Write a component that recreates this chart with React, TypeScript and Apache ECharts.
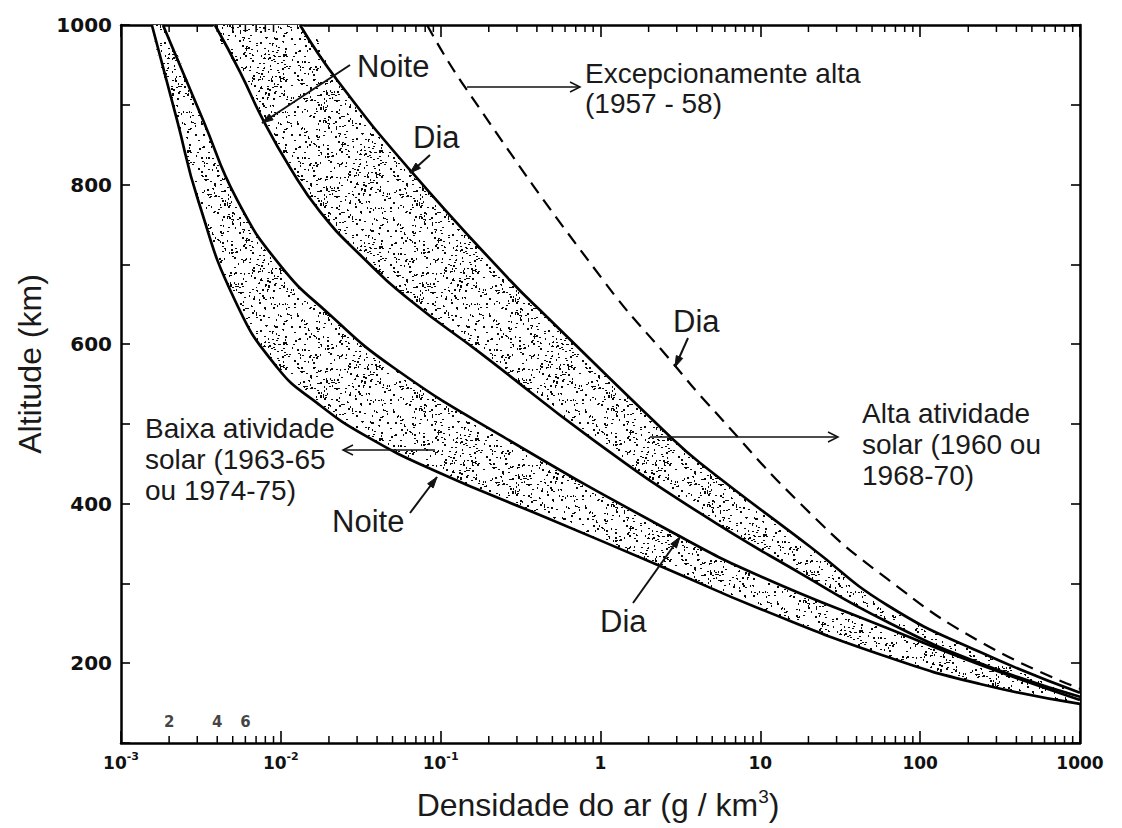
import React, { useEffect, useRef } from "react";
import * as echarts from "echarts";

type Pt = [number, number];

// Air density (g/km^3) vs altitude (km)
const lowActivityNight: Pt[] = [
  [0.00156, 1000], [0.00224, 881], [0.00303, 781], [0.00516, 655], [0.00946, 571],
  [0.0169, 526], [0.0346, 484], [0.0948, 440], [0.463, 382], [2.36, 322],
  [10, 268], [62, 208], [237, 174], [1000, 149],
];
const lowActivityDay: Pt[] = [
  [0.00183, 1000], [0.00326, 881], [0.00532, 781], [0.00988, 699], [0.0197, 639],
  [0.0504, 571], [0.2455, 484], [3.01, 361], [10, 309], [62, 244],
  [237, 198], [1000, 154],
];
const highActivityNight: Pt[] = [
  [0.00387, 1000], [0.00556, 941], [0.00774, 881], [0.01143, 821], [0.01758, 766],
  [0.0313, 712], [0.0644, 655], [0.1766, 589], [0.899, 480], [4.2, 388],
  [17.7, 313], [62, 252], [237, 200], [1000, 158],
];
const highActivityDay: Pt[] = [
  [0.01318, 1000], [0.02249, 931], [0.0644, 818], [0.2716, 680], [0.463, 634],
  [2.73, 484], [4.2, 451], [20.5, 346], [62, 273], [237, 214], [1000, 163],
];
const exceptionalDay: Pt[] = [
  [0.0822, 1000], [0.142, 922], [1.04, 680], [2.84, 576], [4.65, 526],
  [20.5, 388], [62, 306], [237, 227], [1000, 168],
];

const xTickLabels = ["10^-3", "10^-2", "10^-1", "1", "10", "100", "1000"];
const yTickLabels = [200, 400, 600, 800, 1000];
const decadeStarts = [0.001, 0.01, 0.1, 1, 10, 100];
const minorMultipliers = [2, 3, 4, 5, 6, 7, 8, 9];
const firstDecadeLabels = ["2", "4", "6"];

const X_MIN = 0.001;
const X_MAX = 1000;
const Y_MIN = 100;
const Y_MAX = 1000;
const SMALL_LABEL_ALT = 126;
const SMOOTH = 0.5;

const ANNOT_FONT = '"Liberation Sans", Arial, Helvetica, sans-serif';
const TICK_FONT = '"DejaVu Sans", "Liberation Sans", sans-serif';

function makeStipple(): HTMLCanvasElement {
  const size = 96;
  const c = document.createElement("canvas");
  c.width = size;
  c.height = size;
  const ctx = c.getContext("2d")!;
  ctx.fillStyle = "#ffffff";
  ctx.fillRect(0, 0, size, size);
  ctx.fillStyle = "#0a0a0a";
  let s = 424242;
  const next = () => {
    s = (s * 16807) % 2147483647;
    return s / 2147483647;
  };
  for (let i = 0; i < 430; i++) {
    const x = Math.floor(next() * size);
    const y = Math.floor(next() * size);
    const r = next();
    if (r < 0.5) ctx.fillRect(x, y, 2, 1);
    else if (r < 0.8) ctx.fillRect(x, y, 1, 2);
    else ctx.fillRect(x, y, 2, 2);
  }
  return c;
}

function filledHead(from: Pt, tip: Pt, len = 11, half = 3.5): number[][] {
  const dx = tip[0] - from[0];
  const dy = tip[1] - from[1];
  const d = Math.hypot(dx, dy);
  const ux = dx / d;
  const uy = dy / d;
  const bx = tip[0] - ux * len;
  const by = tip[1] - uy * len;
  return [
    [tip[0], tip[1]],
    [bx - uy * half, by + ux * half],
    [bx + uy * half, by - ux * half],
  ];
}

function openHead(from: Pt, tip: Pt, len = 10, half = 5): number[][] {
  const dx = tip[0] - from[0];
  const dy = tip[1] - from[1];
  const d = Math.hypot(dx, dy);
  const ux = dx / d;
  const uy = dy / d;
  const bx = tip[0] - ux * len;
  const by = tip[1] - uy * len;
  return [
    [bx - uy * half, by + ux * half],
    [tip[0], tip[1]],
    [bx + uy * half, by - ux * half],
  ];
}

export default function App() {
  const ref = useRef<HTMLDivElement>(null);

  useEffect(() => {
    const chart = echarts.init(ref.current!, null, { renderer: "svg" });
    const stipple = makeStipple();
    const pattern: any = {
      image: stipple,
      repeat: "repeat",
      imageWidth: 96,
      imageHeight: 96,
    };

    const bands: [Pt[], Pt[]][] = [
      [lowActivityNight, lowActivityDay],
      [highActivityNight, highActivityDay],
    ];

    const minorTicks = decadeStarts.flatMap((d) => minorMultipliers.map((m) => m * d));

    const texts: { t: string; x: number; b: number; s: number }[] = [
      { t: "Noite", x: 357, b: 77, s: 31 },
      { t: "Dia", x: 413, b: 148, s: 31 },
      { t: "Excepcionamente alta", x: 585, b: 83, s: 28 },
      { t: "(1957 - 58)", x: 585, b: 113, s: 28 },
      { t: "Dia", x: 673, b: 332, s: 31 },
      { t: "Alta atividade", x: 862, b: 423, s: 28 },
      { t: "solar (1960 ou", x: 862, b: 454, s: 28 },
      { t: "1968-70)", x: 862, b: 485, s: 28 },
      { t: "Baixa atividade", x: 145, b: 438, s: 28 },
      { t: "solar (1963-65", x: 145, b: 469, s: 28 },
      { t: "ou 1974-75)", x: 145, b: 500, s: 28 },
      { t: "Noite", x: 332, b: 532, s: 31 },
      { t: "Dia", x: 600, b: 632, s: 31 },
    ];
    const openArrows: [Pt, Pt][] = [
      [[467, 87], [580, 87]],
      [[650, 437], [838, 437]],
      [[435, 450], [343, 450]],
    ];
    const filledArrows: [Pt, Pt][] = [
      [[350, 65], [262, 123]],
      [[430, 155], [410, 173]],
      [[688, 338], [675, 367]],
      [[410, 513], [437, 477]],
      [[633, 603], [680, 537]],
    ];

    const graphics: any[] = [];
    texts.forEach((o) => {
      graphics.push({
        type: "text",
        x: o.x,
        y: o.b - 0.3465 * o.s,
        z: 100,
        style: {
          text: o.t,
          font: `${o.s}px ${ANNOT_FONT}`,
          fill: "#1a1a1a",
          align: "left",
          verticalAlign: "middle",
        },
      });
    });
    openArrows.forEach(([a, b]) => {
      graphics.push({
        type: "line",
        z: 100,
        shape: { x1: a[0], y1: a[1], x2: b[0], y2: b[1] },
        style: { stroke: "#111", lineWidth: 1.5 },
      });
      graphics.push({
        type: "polyline",
        z: 100,
        shape: { points: openHead(a, b) },
        style: { stroke: "#111", lineWidth: 1.5, fill: null },
      });
    });
    filledArrows.forEach(([a, b]) => {
      graphics.push({
        type: "line",
        z: 100,
        shape: { x1: a[0], y1: a[1], x2: b[0], y2: b[1] },
        style: { stroke: "#111", lineWidth: 2 },
      });
      graphics.push({
        type: "polygon",
        z: 100,
        shape: { points: filledHead(a, b) },
        style: { fill: "#111", stroke: "#111", lineWidth: 1 },
      });
    });
    graphics.push({
      type: "text",
      x: 30,
      y: 364,
      rotation: Math.PI / 2,
      z: 100,
      style: {
        text: "Altitude (km)",
        font: `32px ${ANNOT_FONT}`,
        fill: "#1a1a1a",
        align: "center",
        verticalAlign: "middle",
      },
    });
    graphics.push({
      type: "text",
      x: 598,
      y: 805,
      z: 100,
      style: {
        text: "{n|Densidade do ar (g / km}{s|3}{n|)}",
        align: "center",
        verticalAlign: "middle",
        rich: {
          n: { fontSize: 32, fontFamily: ANNOT_FONT, fill: "#1a1a1a", lineHeight: 36 },
          s: {
            fontSize: 19,
            fontFamily: ANNOT_FONT,
            fill: "#1a1a1a",
            lineHeight: 19,
            padding: [0, 0, 17, 0],
          },
        },
      },
    });

    const axisLine = { show: true, onZero: false, lineStyle: { color: "#000", width: 2.5 } };
    const tickStyle = { color: "#000", width: 1.6 };

    const xLabelFormatter = (v: number) => {
      const e = Math.round(Math.log10(v));
      const lbl = xTickLabels[e + 3];
      if (!lbl) return "";
      const parts = lbl.split("^");
      return parts.length > 1 ? `{b|${parts[0]}}{s|${parts[1]}}` : `{b|${parts[0]}}`;
    };

    const lineSeries = (data: Pt[], dashed = false) => ({
      type: "line",
      data,
      showSymbol: false,
      symbol: "none",
      smooth: SMOOTH,
      silent: true,
      z: 5,
      lineStyle: {
        color: "#000",
        width: dashed ? 2.2 : 2.7,
        type: dashed ? [13, 8] : "solid",
      },
    });

    chart.setOption({
      animation: false,
      backgroundColor: "#fff",
      grid: { left: 121, right: 42, top: 25, bottom: 85, containLabel: false },
      xAxis: [
        {
          type: "log",
          logBase: 10,
          min: X_MIN,
          max: X_MAX,
          interval: 1,
          position: "bottom",
          axisLine,
          axisTick: { show: true, inside: true, length: 12, lineStyle: tickStyle },
          splitLine: { show: false },
          axisLabel: {
            margin: 10,
            formatter: xLabelFormatter,
            rich: {
              b: { fontSize: 17, fontWeight: "bold", fontFamily: TICK_FONT, color: "#111", lineHeight: 20 },
              s: {
                fontSize: 11,
                fontWeight: "bold",
                fontFamily: TICK_FONT,
                color: "#111",
                lineHeight: 11,
                padding: [0, 0, 14, 0],
              },
            },
          },
        },
        {
          type: "log",
          logBase: 10,
          min: X_MIN,
          max: X_MAX,
          interval: 1,
          position: "top",
          axisLine,
          axisTick: { show: true, inside: true, length: 12, lineStyle: tickStyle },
          splitLine: { show: false },
          axisLabel: { show: false },
        },
      ],
      yAxis: [
        {
          type: "value",
          min: Y_MIN,
          max: Y_MAX,
          interval: 100,
          position: "left",
          axisLine,
          axisTick: { show: true, inside: true, length: 9, lineStyle: tickStyle },
          splitLine: { show: false },
          axisLabel: {
            margin: 9,
            fontSize: 20,
            fontWeight: "bold",
            fontFamily: TICK_FONT,
            color: "#111",
            formatter: (v: number) => (yTickLabels.includes(v) ? String(v) : ""),
          },
        },
        {
          type: "value",
          min: Y_MIN,
          max: Y_MAX,
          interval: 100,
          position: "right",
          axisLine,
          axisTick: { show: true, inside: true, length: 9, lineStyle: tickStyle },
          splitLine: { show: false },
          axisLabel: { show: false },
        },
      ],
      series: [
        {
          type: "custom",
          coordinateSystem: "cartesian2d",
          silent: true,
          clip: true,
          z: 1,
          data: bands.map((_, i) => [1, 500, i]),
          renderItem: (params: any, api: any) => {
            const idx = api.value(2);
            const [left, right] = bands[idx];
            const pts = left
              .map((p) => api.coord(p))
              .concat(right.slice().reverse().map((p) => api.coord(p)));
            return {
              type: "polygon",
              shape: { points: pts, smooth: SMOOTH },
              style: { fill: pattern, stroke: null },
            };
          },
        },
        lineSeries(lowActivityNight),
        lineSeries(lowActivityDay),
        lineSeries(highActivityNight),
        lineSeries(highActivityDay),
        lineSeries(exceptionalDay, true),
        {
          type: "custom",
          coordinateSystem: "cartesian2d",
          silent: true,
          clip: false,
          z: 6,
          data: minorTicks.map((v) => [v, Y_MIN]),
          renderItem: (params: any, api: any) => {
            const v = api.value(0);
            const b = api.coord([v, Y_MIN]);
            const t = api.coord([v, Y_MAX]);
            return {
              type: "group",
              children: [
                {
                  type: "line",
                  shape: { x1: b[0], y1: b[1], x2: b[0], y2: b[1] - 7 },
                  style: { stroke: "#000", lineWidth: 1.5 },
                },
                {
                  type: "line",
                  shape: { x1: t[0], y1: t[1], x2: t[0], y2: t[1] + 7 },
                  style: { stroke: "#000", lineWidth: 1.5 },
                },
              ],
            };
          },
        },
        {
          type: "scatter",
          silent: true,
          symbolSize: 1,
          itemStyle: { color: "rgba(0,0,0,0)" },
          data: firstDecadeLabels.map((l) => [Number(l) * X_MIN, SMALL_LABEL_ALT]),
          label: {
            show: true,
            position: "inside",
            formatter: (p: any) => firstDecadeLabels[p.dataIndex],
            fontSize: 15,
            fontWeight: "bold",
            fontFamily: TICK_FONT,
            color: "#111",
          },
        },
      ],
      graphic: graphics,
    });

    return () => chart.dispose();
  }, []);

  return (
    <div
      ref={ref}
      style={{ position: "fixed", left: 0, top: 0, width: 1122, height: 828, background: "#fff" }}
    />
  );
}
